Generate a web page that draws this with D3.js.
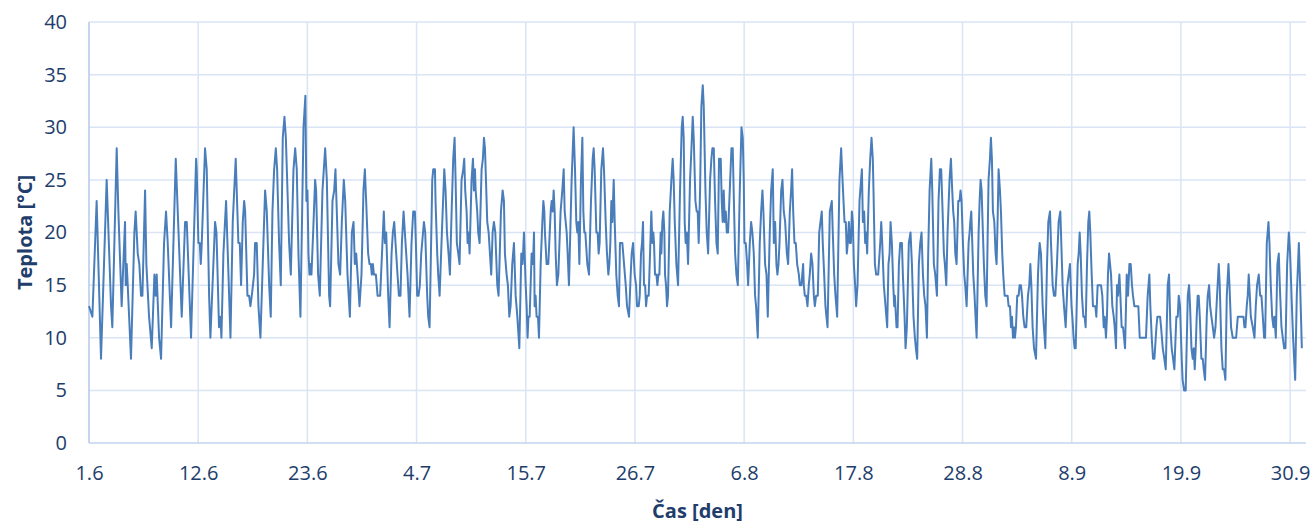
<!DOCTYPE html>
<html>
<head>
<meta charset="utf-8">
<script src="https://d3js.org/d3.v7.min.js"></script>
<style>
body { margin: 0; background: #fff; }
text { font-family: "Open Sans", sans-serif; }
</style>
</head>
<body>
<div id="chart"></div>
<script>
var width = 1314;
var height = 524;
var margin = {top: 22, right: 8, bottom: 81, left: 89};
var textColor = "#213d6b";

// x positions are days since 1.6, ticks every 11 days
var tickDays = [0, 11, 22, 33, 44, 55, 66, 77, 88, 99, 110, 121];
var tickLabels = ["1.6", "12.6", "23.6", "4.7", "15.7", "26.7", "6.8", "17.8", "28.8", "8.9", "19.9", "30.9"];
var yTicks = [0, 5, 10, 15, 20, 25, 30, 35, 40];

// [day, temperature °C]
var readings = [
	[0,13],[0.34,12],[0.77,23],[1.21,8],[1.78,25],[2.22,13],[2.35,11],[2.79,28],[2.96,22],[3.29,13],[3.63,21],[3.70,15],[3.80,17],[3.90,15],[4.23,8],[4.57,20],[4.70,22],[4.91,18],[5.07,17],[5.24,14],[5.38,14],[5.65,24],[5.78,17],[6.05,12],[6.32,9],[6.59,16],[6.72,14],[6.82,16],[7.06,10],[7.26,8],[7.56,19],[7.76,22],[7.93,19],[8.27,11],[8.74,27],[8.94,22],[9.34,12],[9.68,21],[9.85,21],[10.28,10],[10.79,27],
	[10.85,26],[11.02,19],[11.16,19],[11.26,17],[11.36,19],[11.69,28],[11.86,26],[12.10,14],[12.23,10],[12.70,21],[12.84,20],[13.10,11],[13.24,12],[13.34,10],[13.54,18],[13.81,23],[14.05,16],[14.25,10],[14.48,21],[14.78,27],[15.05,19],[15.19,19],[15.32,15],[15.49,21],[15.63,23],[15.73,22],[15.96,14],[16.13,14],[16.26,13],[16.40,14],[16.63,16],[16.73,19],[16.90,19],[17.07,13],[17.27,10],[17.57,19],[17.74,24],[17.91,22],[18.15,15],[18.31,12],[18.48,22],[18.65,26],[18.82,28],[18.95,26],[19.15,19],[19.32,15],[19.52,29],[19.69,31],[19.83,29],[20.16,19],[20.33,16],[20.60,26],[20.77,28],[20.93,26],[21.10,18],[21.30,12],[21.61,30],
	[21.80,33],[21.90,23],[22.01,24],[22.11,18],[22.21,16],[22.31,17],[22.41,16],[22.58,20],[22.78,25],[22.88,24],[23.08,16],[23.25,14],[23.52,24],[23.79,28],[23.96,25],[24.19,14],[24.29,13],[24.53,23],[24.70,24],[24.83,26],[24.93,23],[25.13,17],[25.30,16],[25.47,21],[25.67,25],[25.81,23],[26.04,16],[26.28,12],[26.48,20],[26.65,21],[26.78,17],[26.92,18],[27.12,15],[27.25,13],[27.45,16],[27.65,24],[27.79,26],[27.92,23],[28.12,18],[28.26,17],[28.39,17],[28.49,16],[28.60,17],[28.70,16],[28.90,16],[29.07,14],[29.33,14],[29.47,17],[29.70,22],[29.81,19],[29.94,20],[30.14,14],[30.28,11],[30.48,18],[30.61,20],[30.75,21],[30.88,19],[31.08,16],[31.22,14],[31.38,14],[31.52,19],[31.69,22],[31.82,20],[32.09,16],[32.29,12],[32.49,19],[32.66,22],[32.83,22],[32.93,19],
	[33.06,14],[33.20,14],[33.33,15],[33.47,18],[33.74,21],[33.87,20],[34.07,14],[34.17,12],[34.31,11],[34.58,25],[34.68,26],[34.85,26],[34.91,23],[35.08,18],[35.18,16],[35.32,14],[35.55,20],[35.79,26],[35.92,24],[36.06,20],[36.22,18],[36.36,16],[36.53,22],[36.69,27],[36.83,29],[36.93,25],[37.06,19],[37.20,18],[37.33,17],[37.53,25],[37.70,26],[37.80,27],[37.90,24],[38.04,22],[38.14,19],[38.24,20],[38.34,18],[38.54,25],[38.68,27],[38.78,24],[38.88,26],[38.95,24],[39.11,22],[39.21,20],[39.35,19],[39.55,26],[39.68,27],[39.79,29],[39.89,28],[39.99,25],[40.12,21],[40.26,20],[40.39,18],[40.52,16],[40.66,20],[40.79,21],[40.93,20],[41.13,15],[41.26,14],[41.50,22],[41.67,24],[41.80,23],[41.90,18],[42.07,16],[42.20,15],[42.34,12],[42.47,13],[42.64,17],[42.81,19],[42.98,14],[43.15,12],[43.35,9],[43.55,18],[43.68,17],[43.82,20],[43.99,15],[44.09,13],[44.18,10],
	[44.27,12],[44.39,12],[44.59,18],[44.72,17],[44.83,20],[44.89,13],[44.99,14],[45.09,12],[45.23,12],[45.33,10],[45.50,17],[45.67,21],[45.77,23],[45.87,22],[45.93,20],[46.10,17],[46.27,17],[46.51,22],[46.61,23],[46.71,22],[46.81,24],[46.91,22],[47.01,18],[47.14,15],[47.28,16],[47.51,22],[47.68,24],[47.82,26],[47.92,22],[48.12,20],[48.22,18],[48.35,15],[48.62,25],[48.82,30],[48.96,26],[49.09,21],[49.19,20],[49.29,21],[49.40,17],[49.56,25],[49.70,29],[49.80,22],[49.90,20],[50.00,20],[50.20,17],[50.37,16],[50.57,23],[50.74,27],[50.84,28],[50.94,26],[51.11,20],[51.24,20],[51.34,18],[51.44,19],[51.61,26],[51.78,28],[51.88,26],[52.05,21],[52.18,18],[52.32,16],[52.42,17],[52.52,19],[52.62,23],[52.72,21],[52.86,25],[52.96,21],[53.12,16],[53.26,14],[53.39,13],[53.49,19],[53.73,19],[53.90,17],[54.07,15],[54.20,13],[54.40,12],[54.57,16],[54.67,18],[54.81,19],[54.97,16],[55.11,15],
	[55.21,13],[55.38,13],[55.48,14],[55.61,18],[55.71,19],[55.81,21],[55.91,15],[56.02,15],[56.12,13],[56.22,14],[56.38,14],[56.52,18],[56.65,22],[56.75,19],[56.85,20],[56.92,19],[57.02,16],[57.16,16],[57.26,15],[57.36,16],[57.46,16],[57.59,20],[57.66,18],[57.76,21],[57.86,22],[57.96,20],[58.03,16],[58.13,15],[58.23,13],[58.33,14],[58.50,22],[58.67,25],[58.80,27],[58.90,25],[59.01,21],[59.17,17],[59.34,15],[59.54,24],[59.71,30],[59.81,31],[59.91,29],[60.01,21],[60.11,19],[60.22,20],[60.35,17],[60.55,25],[60.69,28],[60.82,31],[60.92,29],[61.09,23],[61.22,22],[61.32,22],[61.42,19],[61.56,24],[61.69,32],[61.83,34],[61.93,32],[62.10,24],[62.23,20],[62.37,18],[62.57,25],[62.70,27],[62.80,28],[62.94,28],[63.07,23],[63.21,19],[63.34,18],[63.47,27],[63.64,27],[63.74,23],[63.84,21],[63.94,24],[64.05,21],[64.15,22],[64.25,20],[64.38,20],[64.55,24],[64.72,28],[64.85,28],[64.99,22],[65.09,18],[65.22,16],[65.36,15],[65.56,24],[65.73,30],[65.86,29],
	[65.96,25],[66.03,19],[66.16,19],[66.30,17],[66.40,15],[66.57,19],[66.70,21],[66.83,20],[66.97,18],[67.10,14],[67.20,13],[67.37,10],[67.57,19],[67.71,22],[67.84,24],[67.94,22],[68.11,17],[68.25,16],[68.38,12],[68.58,20],[68.72,24],[68.88,26],[68.99,19],[69.12,21],[69.25,17],[69.35,16],[69.46,17],[69.56,19],[69.73,24],[69.86,25],[69.99,22],[70.13,21],[70.30,18],[70.43,17],[70.60,22],[70.73,24],[70.83,26],[70.94,22],[71.07,19],[71.20,19],[71.34,17],[71.51,16],[71.61,15],[71.77,15],[71.94,17],[72.01,15],[72.11,14],[72.25,14],[72.38,13],[72.51,15],[72.61,16],[72.75,18],[72.88,17],[73.02,14],[73.12,13],[73.25,14],[73.42,14],[73.56,20],[73.69,21],[73.82,22],[73.92,19],[74.06,16],[74.19,13],[74.29,12],[74.40,11],[74.63,22],[74.83,23],[74.93,20],[75.07,16],[75.20,14],[75.37,12],[75.60,25],[75.77,28],[75.91,25],[76.01,23],[76.11,21],[76.24,21],[76.34,18],[76.44,19],[76.55,21],[76.65,19],[76.75,19],[76.85,22],[76.95,21],[77.05,17],[77.18,15],
	[77.28,13],[77.42,15],[77.62,23],[77.86,26],[77.96,21],[78.09,22],[78.19,19],[78.29,20],[78.39,18],[78.56,24],[78.70,27],[78.83,29],[78.96,27],[79.03,24],[79.17,17],[79.30,16],[79.50,16],[79.71,19],[79.81,21],[79.91,19],[80.07,15],[80.24,13],[80.41,11],[80.54,17],[80.65,18],[80.75,21],[80.88,19],[81.02,15],[81.12,13],[81.18,14],[81.35,11],[81.45,11],[81.59,17],[81.72,19],[81.89,19],[81.99,16],[82.16,12],[82.26,9],[82.39,11],[82.59,19],[82.76,20],[82.90,17],[83.06,12],[83.20,10],[83.30,9],[83.43,8],[83.60,17],[83.74,19],[83.87,20],[84.01,16],[84.14,14],[84.27,13],[84.41,10],[84.54,18],[84.68,24],[84.85,27],[84.95,24],[85.11,17],[85.25,16],[85.42,14],[85.58,23],[85.72,26],[85.85,26],[85.99,22],[86.12,18],[86.22,17],[86.36,15],[86.49,20],[86.69,25],[86.83,27],[86.96,24],[87.06,22],[87.16,21],[87.27,18],[87.40,17],[87.57,23],[87.70,23],[87.80,24],[87.90,23],
	[88.04,19],[88.17,16],[88.27,15],[88.41,13],[88.61,19],[88.71,20],[88.78,21],[88.88,22],[88.98,19],[89.08,16],[89.21,14],[89.31,12],[89.42,10],[89.62,20],[89.72,23],[89.82,25],[89.92,24],[90.05,20],[90.15,17],[90.29,14],[90.42,13],[90.62,25],[90.76,27],[90.86,29],[90.96,27],[91.06,22],[91.20,21],[91.33,18],[91.43,17],[91.53,21],[91.63,26],[91.77,24],[91.87,22],[92.00,18],[92.10,16],[92.24,14],[92.41,14],[92.54,14],[92.64,13],[92.78,13],[92.88,11],[92.98,12],[93.08,10],[93.18,11],[93.28,10],[93.38,11],[93.51,14],[93.65,14],[93.75,15],[93.88,15],[93.99,14],[94.12,12],[94.25,11],[94.42,11],[94.59,14],[94.72,15],[94.83,17],[94.93,15],[95.06,11],[95.20,9],[95.40,8],[95.60,16],[95.70,18],[95.77,19],[95.90,18],[96.07,13],[96.20,11],[96.34,9],[96.51,17],[96.64,21],[96.81,22],[96.91,19],[97.08,15],[97.21,14],[97.35,14],[97.51,17],[97.68,21],[97.85,22],[97.95,19],[98.08,15],[98.22,13],[98.39,11],[98.56,15],[98.69,16],[98.82,17],
	[98.98,13],[99.06,12],[99.19,10],[99.29,9],[99.40,9],[99.60,17],[99.70,18],[99.80,20],[99.90,18],[100.03,14],[100.17,12],[100.30,12],[100.40,11],[100.54,17],[100.67,21],[100.77,22],[100.87,20],[101.01,16],[101.14,13],[101.28,13],[101.38,13],[101.48,12],[101.61,15],[101.81,15],[101.95,15],[102.08,14],[102.22,11],[102.32,12],[102.45,10],[102.55,12],[102.65,16],[102.76,18],[102.86,17],[102.96,16],[103.09,13],[103.23,12],[103.33,11],[103.46,9],[103.56,15],[103.66,14],[103.80,16],[103.90,14],[104.03,11],[104.17,11],[104.27,10],[104.37,9],[104.54,16],[104.67,14],[104.81,17],[104.94,17],[105.07,15],[105.17,14],[105.31,13],[105.71,13],[105.85,10],[106.48,10],[106.65,14],[106.82,16],[106.92,13],[107.06,10],[107.19,8],[107.33,8],[107.53,11],[107.63,12],[107.90,12],[108.00,11],[108.17,9],[108.33,8],[108.47,7],[108.67,15],[108.80,16],[108.94,11],[109.07,9],[109.21,8],[109.34,7],[109.54,12],[109.68,12],[109.78,14],[109.91,13],[110.01,10],[110.08,8],
	[110.17,6],[110.32,5],[110.48,5],[110.69,14],[110.82,15],[110.92,13],[111.06,9],[111.19,8],[111.29,9],[111.39,7],[111.49,9],[111.59,12],[111.69,14],[111.79,14],[111.90,12],[112.06,8],[112.20,8],[112.30,7],[112.43,6],[112.60,12],[112.70,14],[112.84,15],[112.94,13],[113.07,12],[113.21,11],[113.34,10],[113.48,11],[113.64,14],[113.81,17],[113.91,15],[114.08,9],[114.21,7],[114.35,7],[114.48,6],[114.62,14],[114.79,17],[114.89,15],[115.05,11],[115.22,10],[115.56,10],[115.73,12],[116.30,12],[116.40,11],[116.50,11],[116.63,13],[116.73,14],[116.83,16],[116.94,14],[117.04,12],[117.24,11],[117.41,10],[117.54,13],[117.67,15],[117.84,16],[117.98,14],[118.11,14],[118.25,12],[118.38,10],[118.48,10],[118.65,19],[118.82,21],[118.92,19],[119.05,15],[119.19,12],[119.32,11],[119.42,12],[119.56,10],[119.72,17],[119.86,18],[119.96,15],[120.13,11],[120.26,10],[120.40,9],[120.53,9],[120.70,17],[120.87,20],[121.00,18],[121.14,14],[121.30,10],[121.51,6],[121.67,14],[121.88,19],[122.01,15],[122.18,9]
];

var x = d3.scaleLinear()
	.domain([0, 122.6])
	.range([margin.left, width - margin.right]);

var y = d3.scaleLinear()
	.domain([0, 40])
	.range([height - margin.bottom, margin.top]);

var svg = d3.select("#chart").append("svg")
	.attr("width", width)
	.attr("height", height)
	.style("background", "#fff");

// grid
svg.append("g")
	.selectAll("line")
	.data(yTicks.slice(1))
	.enter().append("line")
		.attr("x1", margin.left)
		.attr("x2", width - margin.right)
		.attr("y1", function(d) { return y(d); })
		.attr("y2", function(d) { return y(d); })
		.attr("stroke", "#d9e4f4")
		.attr("stroke-width", 1.5);

svg.append("g")
	.selectAll("line")
	.data(tickDays.slice(1))
	.enter().append("line")
		.attr("x1", function(d) { return x(d); })
		.attr("x2", function(d) { return x(d); })
		.attr("y1", y(0))
		.attr("y2", y(40))
		.attr("stroke", "#d9e4f4")
		.attr("stroke-width", 1.5);

// axis lines
svg.append("line")
	.attr("x1", margin.left).attr("x2", width - margin.right)
	.attr("y1", y(0)).attr("y2", y(0))
	.attr("stroke", "#c3d4ee")
	.attr("stroke-width", 1.5);

svg.append("line")
	.attr("x1", margin.left).attr("x2", margin.left)
	.attr("y1", y(0)).attr("y2", y(40))
	.attr("stroke", "#b4c9ea")
	.attr("stroke-width", 1.5);

var yAxis = svg.append("g")
	.attr("transform", "translate(" + margin.left + ",0)")
	.call(d3.axisLeft(y).tickValues(yTicks).tickSize(0).tickPadding(22));

var xAxis = svg.append("g")
	.attr("transform", "translate(0," + y(0) + ")")
	.call(d3.axisBottom(x)
		.tickValues(tickDays)
		.tickSize(0)
		.tickPadding(23)
		.tickFormat(function(d, i) { return tickLabels[i]; }));

[yAxis, xAxis].forEach(function(a) {
	a.select(".domain").remove();
	a.selectAll("text")
		.attr("fill", textColor)
		.style("font-size", "20px")
		.style("font-family", "'Open Sans', sans-serif");
});

// temperature line
var line = d3.line()
	.x(function(d) { return x(d[0]); })
	.y(function(d) { return y(d[1]); });

svg.append("path")
	.datum(readings)
	.attr("d", line)
	.attr("fill", "none")
	.attr("stroke", "#4a7ebb")
	.attr("stroke-width", 2)
	.attr("stroke-linejoin", "round");

// axis titles
svg.append("text")
	.attr("transform", "translate(32," + ((y(0) + y(40)) / 2) + ") rotate(-90)")
	.attr("text-anchor", "middle")
	.attr("fill", textColor)
	.style("font-size", "20px")
	.style("font-weight", "bold")
	.text("Teplota [°C]");

svg.append("text")
	.attr("x", (margin.left + width - margin.right) / 2)
	.attr("y", 518)
	.attr("text-anchor", "middle")
	.attr("fill", textColor)
	.style("font-size", "20px")
	.style("font-weight", "bold")
	.text("Čas [den]");
</script>
</body>
</html>
